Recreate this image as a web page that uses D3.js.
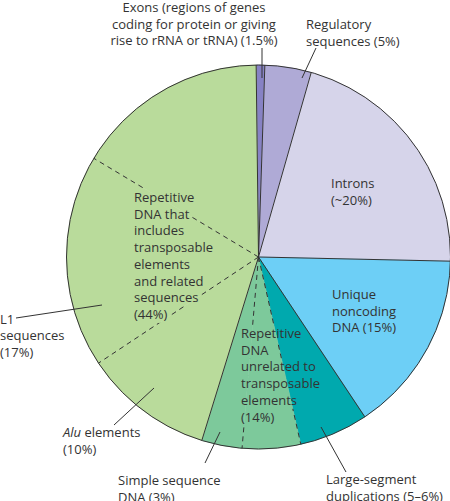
<!DOCTYPE html>
<html>
<head>
<meta charset="utf-8">
<script src="https://cdn.jsdelivr.net/npm/d3@7"></script>
<style>
  html, body { margin: 0; padding: 0; background: #fff; }
  svg { display: block; }
  text { font-family: "Open Sans", "Noto Sans", sans-serif; font-size: 13px; }
</style>
</head>
<body>
<svg id="chart" width="450" height="501" xmlns="http://www.w3.org/2000/svg"></svg>
<script>
// ---- data (percent of genome, as drawn) ----
const categories = [
  "Exons", "Regulatory sequences", "Introns", "Unique noncoding DNA",
  "Large-segment duplications", "Other repetitive unrelated", "Simple sequence DNA",
  "Alu elements", "L1 sequences", "Other transposable-related"
];
const values = [0.72, 3.9, 20.9, 15.3, 5.8, 4.9, 3.4, 10.9, 17.9, 16.2];
const groups = ["exons", "reg", "introns", "unique", "unrel", "unrel", "unrel", "trans", "trans", "trans"];
const labelLines = [
  ["Exons (regions of genes", "coding for protein or giving", "rise to rRNA or tRNA) (1.5%)"],
  ["Regulatory", "sequences (5%)"],
  ["Introns", "(~20%)"],
  ["Unique", "noncoding", "DNA (15%)"],
  ["Large-segment", "duplications (5\u20136%)"],
  ["Repetitive", "DNA", "unrelated to", "transposable", "elements", "(14%)"],
  ["Simple sequence", "DNA (3%)"],
  ["Alu| elements", "(10%)"],
  ["L1", "sequences", "(17%)"],
  ["Repetitive", "DNA that", "includes", "transposable", "elements", "and related", "sequences", "(44%)"]
];

// ---- styles / layout ----
const colors = ["#8782c4", "#afaad6", "#d6d4ea", "#6dcff6", "#00a9ae", "#7dc99b", "#7dc99b", "#b9db9b", "#b9db9b", "#b9db9b"];
const cx = 258.5, cy = 257, R = 192;
const startDeg = -0.7;
const lineH = 16.7;
const labelPos = [
  { x: 194, y: 12, anchor: "middle" },
  { x: 306, y: 29, anchor: "start" },
  { x: 331, y: 188, anchor: "start" },
  { x: 332, y: 299, anchor: "start" },
  { x: 326, y: 484, anchor: "start" },
  { x: 241, y: 338, anchor: "start" },
  { x: 118, y: 485, anchor: "start" },
  { x: 63, y: 437, anchor: "start" },
  { x: 0, y: 323.5, anchor: "start" },
  { x: 134, y: 202, anchor: "start" }
];
const leaders = [
  [[262, 48], [262, 78]],
  [[316, 48], [302, 78]],
  null, null,
  [[321, 427], [346, 472]],
  null,
  [[220, 432], [205, 463]],
  [[154, 388], [114, 425]],
  [[16, 318], [102, 305]],
  null
];

const svg = d3.select("#chart");
const defs = svg.append("defs");
const mask = defs.append("mask").attr("id", "knock")
  .attr("maskUnits", "userSpaceOnUse")
  .attr("x", 0).attr("y", 0).attr("width", 450).attr("height", 501);
mask.append("rect").attr("x", 0).attr("y", 0).attr("width", 450).attr("height", 501).attr("fill", "white");

const g = svg.append("g").attr("transform", `translate(${cx},${cy})`);

const start = startDeg * Math.PI / 180;
const pie = d3.pie().sort(null).value(d => d).startAngle(start).endAngle(start + 2 * Math.PI);
const arcs = pie(values);
const arc = d3.arc().innerRadius(0).outerRadius(R);

g.selectAll("path.slice").data(arcs).enter().append("path")
  .attr("class", "slice")
  .attr("d", arc)
  .attr("fill", (d, i) => colors[i])
  .attr("stroke", (d, i) => colors[i])
  .attr("stroke-width", 0.5);

const dashOuter = svg.append("g").attr("mask", "url(#knock)");
const dashG = dashOuter.append("g").attr("transform", `translate(${cx},${cy})`);

// radial boundaries
arcs.forEach((a, i) => {
  const prev = (i - 1 + arcs.length) % arcs.length;
  const dashed = groups[i] === groups[prev];
  const ang = a.startAngle;
  (dashed ? dashG : g).append("line")
    .attr("x1", 0).attr("y1", 0)
    .attr("x2", R * Math.sin(ang)).attr("y2", -R * Math.cos(ang))
    .attr("stroke", "#333")
    .attr("stroke-width", 1)
    .attr("stroke-dasharray", dashed ? "5,4" : null);
});

// outer outline
g.append("circle").attr("r", R).attr("fill", "none").attr("stroke", "#333").attr("stroke-width", 1);

// labels (one text element per line) and knockout rects in the mask
labelLines.forEach((lines, i) => {
  const p = labelPos[i];
  lines.forEach((ln, j) => {
    const t = svg.append("text").attr("text-anchor", p.anchor).attr("fill", "#333")
      .attr("x", p.x).attr("y", p.y + j * lineH);
    if (ln.includes("|")) {
      const [a, b] = ln.split("|");
      t.append("tspan").attr("font-style", "italic").text(a);
      t.append("tspan").text(b);
    } else {
      t.text(ln);
    }
    const bb = t.node().getBBox();
    mask.append("rect")
      .attr("x", bb.x - 2).attr("y", bb.y + 1)
      .attr("width", bb.width + 4).attr("height", bb.height - 1)
      .attr("fill", "black");
  });
});

leaders.forEach(l => {
  if (!l) return;
  svg.append("line")
    .attr("x1", l[0][0]).attr("y1", l[0][1])
    .attr("x2", l[1][0]).attr("y2", l[1][1])
    .attr("stroke", "#333").attr("stroke-width", 1);
});
</script>
</body>
</html>
